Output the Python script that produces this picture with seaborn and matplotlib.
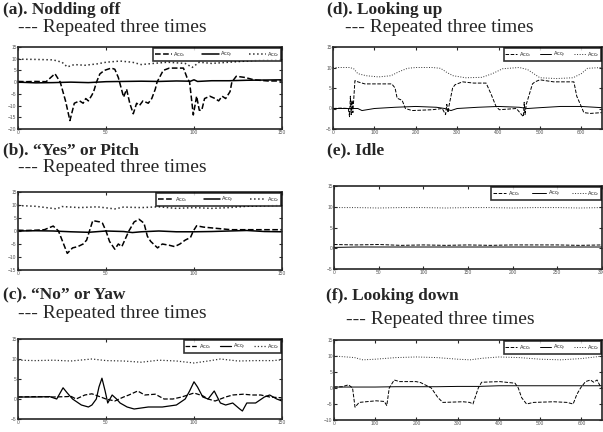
import matplotlib
matplotlib.use("Agg")
import matplotlib.pyplot as plt
import seaborn as sns
import numpy as np

sns.set_style("ticks")
plt.rcParams['font.family'] = ['Liberation Sans', 'DejaVu Sans']
plt.rcParams['mathtext.fontset'] = 'custom'
plt.rcParams['mathtext.rm'] = 'Liberation Sans'
plt.rcParams['mathtext.it'] = 'Liberation Sans'

# (a) Nodding off
a_x_t = [0, 5, 10, 16, 21, 24, 27, 29.5, 32, 35, 37, 38.5, 40, 42, 43, 44.6, 46.5, 49, 53, 55, 57,
         60, 61.7, 63.5, 65.5, 67.4, 69, 71, 74, 76, 78, 79, 82.5, 86, 90, 94, 96, 97.5, 99.6, 101.5,
         103, 104.4, 106, 109, 112, 114, 116, 118, 120.5, 121.5, 124, 129, 134, 142, 150]
a_x_v = [0.3, 0.2, 0.3, 0.2, 3.6, 0, -8, -16.4, -9, -8, -9, -7, -8, -5.5, -4, 0, 3.5, 5, 6, 5.5, 2,
         -6.4, -3, -9, -13.5, -9, -10, -8, -9, -7, -3, 0, 5, 6, 6, 6, 2, 0, -14, -6,
         -12, -12, -7, -6, -7, -8, -6, -7, -4, 0, 2.5, 2, 1, 0.5, 0.5]
a_y_t = [0, 10, 20, 30, 40, 50, 60, 70, 80, 90, 98, 100, 102, 110, 120, 130, 140, 150]
a_y_v = [0, -0.3, -0.2, 0, -0.2, 0.2, 0.3, 0.4, 0.3, 0.5, 0.4, 1.0, 0.3, 0.6, 0.6, 0.8, 0.9, 1.0]
a_z_t = [0, 10, 20, 25, 28, 32, 38, 45, 50, 58, 65, 70, 77, 85, 95, 99, 103, 110, 120, 130, 140, 150]
a_z_v = [9.8, 9.7, 9.5, 8.5, 6.5, 7.5, 7.2, 7.8, 8.5, 9, 8.5, 7.5, 8, 8.5, 8, 6.3, 8.5, 8, 8.5, 9, 9.5, 9.6]

# (b) "Yes" or Pitch
b_x_t = [0, 5, 10, 15, 20, 23, 28, 31, 34, 37, 39, 40.6, 42.5, 46.4, 48, 50, 52, 55, 57, 59, 61,
         63, 66, 68.8, 71.6, 73.5, 75.4, 79.3, 82, 86, 89, 92, 95, 98, 99.6, 101.5, 105.4, 113, 121, 135, 150]
b_x_v = [0.3, 0.2, 0.3, 0.5, 1.9, 0, -8.6, -6.5, -6, -5, -3.5, 0, 4, 3.5, 3, 0, -4, -7, -5, -6, -3,
         0, 3.5, 4.5, 3, -2, -4, -6.5, -5, -5.5, -6, -5, -3.5, -2.5, 0, 2, 1.5, 1, 0.5, 0.5, 0.5]
b_y_t = [0, 10, 20, 30, 40, 50, 60, 65, 70, 80, 90, 100, 110, 120, 130, 140, 150]
b_y_v = [0, 0.1, 0, -0.3, -0.5, 0, -0.2, -0.6, -0.3, 0, -0.3, -0.3, -0.2, 0, 0.2, -0.2, -0.3]
b_z_t = [0, 10, 22, 25, 35, 45, 55, 60, 70, 80, 90, 100, 110, 120, 130, 140, 150]
b_z_v = [9.8, 9.5, 8.5, 9.4, 9, 9.3, 8.5, 9.2, 9, 9.3, 8.7, 9, 8.7, 9, 9.5, 9.7, 9.9]

# (c) "No" or Yaw
c_x_t = [0, 10, 20, 28, 30, 33, 38, 42, 47, 50, 55, 60, 63, 68, 72, 78, 83, 88, 93, 100, 105, 108,
         112, 115, 118, 122, 128, 133, 138, 143, 150]
c_x_v = [0.5, 0.6, 0.5, 0.6, 0.7, 0, 1, 1.3, 0.5, 0, -0.5, 0.5, 1, 2, 1, 1.2, 0, 0, 0.5, 1.5, 0.8, 0,
         -0.5, 0, 0.5, 1, 1.2, 1, 1, 0.5, 0.3]
c_y_t = [0, 10, 18, 22, 25.6, 28, 31, 36, 40, 42, 44.5, 46, 47.7, 49.5, 51, 53.5, 56, 58, 62, 66, 74,
         82, 90, 95, 97.5, 100, 102, 105, 108, 111.5, 115, 118, 122, 126, 127.5, 130, 135, 140, 143, 147, 150]
c_y_v = [0.5, 0.5, 0.6, 0, 2.8, 1.5, 0, -1.5, -2, -1.5, 0, 3, 5.2, 2, -1, 1, 0, -1, -2, -2.5, -2,
         -2, -1.5, 0, 2, 4.3, 3, 0.5, 0, 2, -1, -1.5, -1, -2.5, -3, -1, -1, 0.5, 1, 0, -0.5]
c_z_t = [0, 10, 20, 30, 42, 50, 60, 70, 80, 90, 100, 108, 115, 125, 135, 145, 150]
c_z_v = [9.7, 9.6, 9.7, 9.5, 10, 9.6, 9.5, 9.2, 9.7, 9.5, 9, 9.5, 10, 9.5, 9.6, 9.6, 9.8]

# (d) Looking up
d_x_t = [0, 20, 37, 40, 42, 44, 46, 48, 53, 60, 77, 110, 142, 150, 155, 167, 175, 191, 240, 264, 272,
         275, 278, 280, 289, 295, 313, 340, 370, 382, 394, 402, 443, 460, 462, 464, 467, 476, 482, 488,
         500, 533, 582, 589, 602, 606, 622, 650]
d_x_v = [0, 0.1, 0, -2, 3, -1.5, 2, -1, 6.8, 6.5, 6, 6, 6, 5, 2.5, 2, 0, -0.5, -0.3, 0, -1.5,
         1, -1, 0.5, 5, 5.8, 6.5, 6.2, 6.2, 3.5, 0.5, -0.3, 0, -2, 1.5, -1.5, 1, 4, 6, 6.5,
         7, 6.5, 6.5, 3, 0, -1, -1.2, -1]
d_y_t = [0, 30, 60, 70, 100, 150, 200, 250, 270, 285, 300, 350, 400, 450, 470, 500, 550, 600, 650]
d_y_v = [0, 0, 0, -0.5, 0, 0.3, 0.5, 0.3, 0, -0.5, 0, 0.3, 0.5, 0.3, 0, 0.2, 0.5, 0.5, 0.2]
d_z_t = [0, 40, 50, 60, 80, 110, 140, 160, 180, 200, 240, 260, 275, 290, 320, 360, 385, 410, 450,
         470, 485, 500, 540, 580, 600, 615, 650]
d_z_v = [10, 10, 9.7, 8.5, 8, 7.7, 8, 9, 9.8, 10, 10, 9.8, 8.8, 8, 7.5, 7.6, 8.5, 9.7, 10,
         9.5, 8.5, 7.5, 7.3, 7.5, 8.5, 9.8, 10]

# (e) Idle
e_t = [0, 25, 50, 75, 100, 125, 150, 175, 200, 225, 250, 275, 300]
e_x_v = [0.9, 0.8, 0.9, 0.7, 0.8, 0.7, 0.8, 0.7, 0.8, 0.8, 0.8, 0.7, 0.8]
e_y_v = [0.2, 0.3, 0.3, 0.3, 0.3, 0.3, 0.3, 0.3, 0.3, 0.3, 0.3, 0.3, 0.3]
e_z_v = [9.8, 9.8, 9.7, 9.8, 9.8, 9.7, 9.8, 9.8, 9.7, 9.8, 9.8, 9.7, 9.8]

# (f) Looking down
f_x_t = [0, 20, 35, 45, 51, 61, 102, 122, 128, 134, 146, 159, 199, 210, 236, 244, 252, 264, 313, 329,
         337, 350, 358, 402, 439, 447, 451, 455, 467, 484, 533, 565, 580, 589, 598, 610, 622, 630, 638, 646, 650]
f_x_v = [0.3, 0.4, 1, 0, -6, -4.5, -4, -4.2, -5.5, 0, 2.5, 2, 2, 1.7, 0, -1.5, -3, -4.5, -4.3, -4.5,
         -5, 0, 1.8, 2, 1.5, 0, -1.5, -3, -5, -4.5, -4.3, -4.5, -5, -2, 0, 2, 2.5, 1.8, 2.5, 0.5, 0]
f_y_t = [0, 50, 100, 150, 200, 250, 300, 350, 400, 450, 500, 550, 600, 650]
f_y_v = [0.3, 0.3, 0.3, 0.4, 0.4, 0.4, 0.5, 0.5, 0.7, 0.7, 0.7, 0.7, 0.7, 0.7]
f_z_t = [0, 50, 70, 100, 150, 200, 250, 300, 330, 360, 400, 450, 500, 550, 600, 640, 650]
f_z_v = [10, 9.5, 8.8, 9, 9.5, 9.7, 9.5, 9, 8.8, 9.3, 9.7, 9.5, 9, 8.8, 9.2, 9.8, 10]

W, H = 603, 432
fig = plt.figure(figsize=(W / 100, H / 100), dpi=100)


def box(l, r, t, b):
    return [l / W, 1 - b / H, (r - l) / W, (b - t) / H]


def panel(rect, xs, ylim, xlim, xticks, lw=0.9, hl=2.2, cs=1.5):
    ax = fig.add_axes(rect)
    (tx, vx), (ty, vy), (tz, vz) = xs
    sns.lineplot(x=tx, y=vx, ax=ax, color='k', linestyle='--', lw=lw, label='Acc$_x$')
    sns.lineplot(x=ty, y=vy, ax=ax, color='k', linestyle='-', lw=lw, label='Acc$_y$')
    sns.lineplot(x=tz, y=vz, ax=ax, color='#333333', linestyle=':', lw=lw, label='Acc$_z$')
    ax.set_xlim(*xlim)
    ax.set_ylim(*ylim)
    ax.set_xticks(xticks)
    ax.set_yticks(np.arange(ylim[0], ylim[1] + 1, 5))
    ax.tick_params(direction='in', top=True, right=True, length=2, width=0.8,
                   labelsize=3.5, labelcolor='#555555', pad=1)
    for s in ax.spines.values():
        s.set_linewidth(1.2)
    leg = ax.legend(loc='upper right', ncol=3, fontsize=3.8, frameon=True, fancybox=False,
                    borderaxespad=0.15, handlelength=hl, columnspacing=cs,
                    borderpad=0.3, handletextpad=0.3)
    leg.get_frame().set_edgecolor('k')
    leg.get_frame().set_linewidth(1.2)
    ax.set_xlabel('')
    ax.set_ylabel('')
    return ax


panel(box(18, 282, 47, 129), [(a_x_t, a_x_v), (a_y_t, a_y_v), (a_z_t, a_z_v)],
      (-20, 15), (0, 150), [0, 50, 100, 150], lw=1.1, hl=3.2, cs=3.0)
panel(box(18, 282, 192, 270), [(b_x_t, b_x_v), (b_y_t, b_y_v), (b_z_t, b_z_v)],
      (-15, 15), (0, 150), [0, 50, 100, 150], lw=1.1, hl=3.0, cs=3.0)
panel(box(18, 282, 339, 419), [(c_x_t, c_x_v), (c_y_t, c_y_v), (c_z_t, c_z_v)],
      (-5, 15), (0, 150), [0, 50, 100, 150], lw=0.9, hl=2.2, cs=1.6)
panel(box(333, 602, 47, 129), [(d_x_t, d_x_v), (d_y_t, d_y_v), (d_z_t, d_z_v)],
      (-5, 15), (0, 650), [0, 100, 200, 300, 400, 500, 600], lw=0.7, hl=2.2, cs=1.6)
panel(box(334, 602, 186, 269), [(e_t, e_x_v), (e_t, e_y_v), (e_t, e_z_v)],
      (-5, 15), (0, 300), [0, 50, 100, 150, 200, 250, 300], lw=0.7, hl=2.6, cs=2.2)
panel(box(334, 602, 340, 420), [(f_x_t, f_x_v), (f_y_t, f_y_v), (f_z_t, f_z_v)],
      (-10, 15), (0, 650), [0, 100, 200, 300, 400, 500, 600], lw=0.7, hl=2.2, cs=1.6)

serif = ['Liberation Serif', 'DejaVu Serif']
titles = [
    (3, 10, '(a). Nodding off', 18, 28),
    (3, 150, '(b). \u201cYes\u201d or Pitch', 18, 168),
    (3, 295, '(c). \u201cNo\u201d or Yaw', 18, 314),
    (327, 10, '(d). Looking up', 345, 28),
    (327, 150, '(e). Idle', None, None),
    (326, 296, '(f). Looking down', 346, 320),
]
for tx, ty, txt, sx, sy in titles:
    fig.text(tx / W, 1 - ty / H, txt, family=serif, fontweight='bold', fontsize=12.5,
             va='center', ha='left')
    if sx is not None:
        fig.text(sx / W, 1 - sy / H, '--- Repeated three times', family=serif,
                 fontsize=14, va='center', ha='left')

fig.savefig('out.png', dpi=100)
